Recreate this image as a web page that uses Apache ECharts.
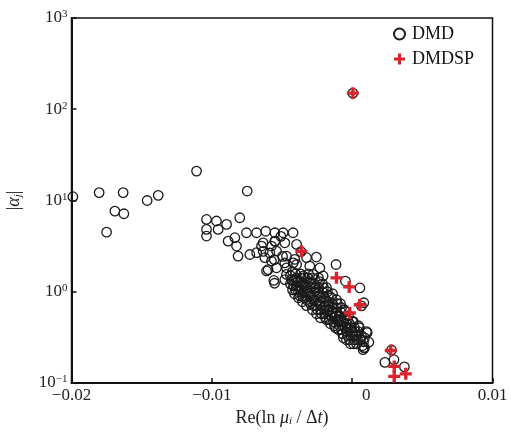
<!DOCTYPE html>
<html><head><meta charset="utf-8">
<script src="https://cdn.jsdelivr.net/npm/echarts@6/dist/echarts.min.js"></script>
<style>html,body{margin:0;padding:0;background:#fff}#c{width:511px;height:434px}</style>
</head><body><div id="c"></div>
<script>
// ---- data ----
const xTickValues = [-0.02, -0.01, 0, 0.01];
const yTickValues = [0.1, 1, 10, 100, 1000];
const seriesNames = ['DMD', 'DMDSP'];

const dmdX = [
  -0.0199, -0.01803, -0.01632, -0.01750, -0.01691, -0.01627, -0.01461, -0.01382, -0.01109, -0.00748,
  -0.01038, -0.01038, -0.01038, -0.00967, -0.00955, -0.00895, -0.00801, -0.00884, -0.00836, -0.00824,
  -0.00753, -0.00681, -0.00616, -0.00813, -0.00729, -0.00681, -0.00646, -0.00622, -0.00575, -0.00599,
  -0.00575, -0.00634, -0.00634, -0.00587, -0.00549, -0.00555, -0.00508, -0.00496, -0.00480, -0.00420,
  -0.00551, -0.00492, -0.00421, -0.00551, -0.00480, -0.00396, -0.00539, -0.00468, -0.00409, -0.00325,
  -0.00255, -0.00539, -0.00468, -0.00396, -0.00302, -0.00230, -0.00115, -0.00558, -0.00553, -0.00480,
  -0.00349, -0.00278, -0.00207, -0.00610, -0.00468, -0.00365, -0.00048, 0.00055,
  -0.00440, -0.00440, -0.00425, -0.00425, -0.00411, -0.00411, -0.00397, -0.00397, -0.00383, -0.00383,
  -0.00368, -0.00368, -0.00368, -0.00354, -0.00354, -0.00340, -0.00340, -0.00326, -0.00326, -0.00326,
  -0.00311, -0.00311, -0.00297, -0.00297, -0.00297, -0.00283, -0.00283, -0.00269, -0.00269, -0.00269,
  -0.00254, -0.00254, -0.00240, -0.00240, -0.00240, -0.00226, -0.00226, -0.00226, -0.00212, -0.00212,
  -0.00197, -0.00197, -0.00197, -0.00183, -0.00183, -0.00169, -0.00169, -0.00169, -0.00155, -0.00155,
  -0.00140, -0.00140, -0.00140, -0.00126, -0.00126, -0.00112, -0.00112, -0.00112, -0.00098, -0.00098,
  -0.00083, -0.00083, -0.00083, -0.00069, -0.00069, -0.00055, -0.00055, -0.00041, -0.00041, -0.00041,
  -0.00026, -0.00026, -0.00012, -0.00012, 0.00002, 0.00002, 0.00016, 0.00016, 0.00031, 0.00031,
  0.00045, 0.00045, 0.00059, 0.00073, 0.00088, 0.00088, 0.00102,
  -0.00432, -0.00418, -0.00404, -0.00404, -0.00390, -0.00375, -0.00375, -0.00361, -0.00347, -0.00347,
  -0.00333, -0.00318, -0.00318, -0.00304, -0.00304, -0.00290, -0.00276, -0.00276, -0.00261, -0.00247,
  -0.00247, -0.00233, -0.00233, -0.00219, -0.00219, -0.00204, -0.00204, -0.00190, -0.00190, -0.00176,
  -0.00176, -0.00162, -0.00162, -0.00147, -0.00147, -0.00133, -0.00133, -0.00119, -0.00119, -0.00105,
  -0.00105, -0.00090, -0.00090, -0.00076, -0.00076, -0.00062, -0.00062, -0.00048, -0.00048, -0.00033,
  -0.00033, -0.00019, -0.00019, -0.00005, 0.00009, 0.00009, 0.00024, 0.00038, 0.00052, 0.00066,
  0.00081,
  0.00083, 0.00066, 0.00107, 0.00119, 0.00083, 0.00078, 0.00007, 0.00233, 0.00372, 0.00280, 0.00298,
  0.00005
];
const dmdY = [
  11.0, 12.2, 12.2, 4.5, 7.66, 7.16, 10.0, 11.4, 21.0, 12.7,
  6.2, 4.82, 4.08, 5.96, 4.82, 5.47, 6.47, 3.59, 3.91, 3.17,
  4.43, 4.43, 4.6, 2.46, 2.56, 2.68, 3.17, 2.36, 3.17, 1.75,
  2.17, 3.44, 2.77, 2.66, 3.57, 2.25, 4.05, 2.44, 2.07, 2.07,
  4.43, 4.43, 4.43, 3.59, 3.44, 3.30, 2.79, 2.46, 2.26, 2.36,
  2.40, 1.83, 1.83, 1.99, 1.91, 1.83, 1.99, 1.33, 1.24, 1.36,
  1.49, 1.55, 1.49, 1.69, 1.55, 2.75, 1.31, 1.10,
  1.50, 1.22, 1.05, 1.66, 1.35, 0.951, 1.42, 1.16, 1.00, 0.860,
  1.57, 1.29, 1.05, 0.904, 0.777, 1.42, 1.16, 1.00, 0.817, 0.703,
  1.57, 1.29, 1.11, 0.904, 0.739, 0.635, 1.42, 1.22, 1.00, 0.817,
  0.703, 0.574, 1.42, 1.11, 0.904, 0.777, 0.635, 0.519, 1.22, 1.00,
  0.860, 0.703, 0.574, 0.494, 1.11, 0.904, 0.777, 0.635, 0.546, 0.446,
  0.951, 0.739, 0.604, 0.519, 0.424, 0.817, 0.668, 0.546, 0.469, 0.384,
  0.739, 0.604, 0.494, 0.424, 0.347, 0.635, 0.519, 0.446, 0.365, 0.298,
  0.546, 0.403, 0.330, 0.269, 0.469, 0.365, 0.298, 0.403, 0.330, 0.269,
  0.424, 0.365, 0.298, 0.256, 0.313, 0.243, 0.365,
  1.35, 1.16, 1.57, 1.05, 1.29, 1.11, 0.904, 1.42, 1.00, 1.22,
  0.860, 1.11, 1.42, 0.951, 0.777, 1.22, 0.860, 0.703, 1.11, 0.951,
  0.635, 1.29, 0.739, 0.860, 0.574, 1.11, 0.668, 0.777, 0.519, 1.00,
  0.604, 0.703, 0.494, 0.860, 0.546, 0.668, 0.469, 0.574, 0.403, 0.739,
  0.494, 0.546, 0.424, 0.668, 0.384, 0.469, 0.313, 0.604, 0.403, 0.494,
  0.330, 0.446, 0.298, 0.403, 0.330, 0.269, 0.365, 0.298, 0.403, 0.330,
  0.283,
  0.758, 0.70, 0.357, 0.28, 0.245, 0.232, 0.474, 0.168, 0.150, 0.230, 0.180,
  150
];

const dmdspX = [0.00005, -0.00361, -0.00112, -0.00021, 0.00054, -0.00017, 0.00275, 0.00300, 0.00300, 0.00382];
const dmdspY = [150, 2.77, 1.42, 1.13, 0.72, 0.585, 0.227, 0.152, 0.118, 0.126];

// ---- chart ----
const FONT = "'Liberation Serif','Times New Roman',serif";
const zip = (a, b) => a.map((v, i) => [v, b[i]]);
const plus = 'path://M3.6,0h2.8v3.6h3.6v2.8h-3.6v3.6h-2.8v-3.6h-3.6v-2.8h3.6z';

const chart = echarts.init(document.getElementById('c'), null, {renderer: 'canvas'});
chart.setOption({
  backgroundColor: '#fff',
  animation: false,
  grid: {left: 71.5, right: 18.5, top: 18, bottom: 51, containLabel: false, outerBoundsMode: 'none',
         show: true, borderColor: '#111', borderWidth: 1.5, backgroundColor: 'transparent'},
  legend: {
    data: seriesNames,
    orient: 'vertical', left: 388, top: 20, itemGap: 7,
    itemWidth: 11, itemHeight: 11,
    textStyle: {fontFamily: FONT, fontSize: 18, color: '#111', padding: [0, 0, 0, 2]}
  },
  xAxis: {
    type: 'value', min: xTickValues[0], max: xTickValues[xTickValues.length - 1], interval: 0.01,
    axisLine: {show: true, onZero: false, lineStyle: {color: '#111', width: 2}},
    axisTick: {show: true, inside: true, length: 5, lineStyle: {color: '#111', width: 1.5}},
    splitLine: {show: false},
    axisLabel: {
      margin: 4, color: '#222', fontFamily: FONT, fontSize: 17,
      formatter: v => {
        const r = Math.round(v * 100) / 100;
        if (r === 0) return '{z|0}';
        return (r < 0 ? '\u2212' : '') + Math.abs(r).toFixed(2);
      },
      rich: {z: {fontFamily: FONT, fontSize: 17, color: '#222', padding: [0, 0, 0, 28]}}
    },
    name: '{n|Re(ln }{i|\u03bc}{s|i}{n| / \u0394}{i|t}{n|)}',
    nameLocation: 'middle', nameGap: 25,
    nameTextStyle: {
      rich: {
        n: {fontFamily: FONT, fontSize: 18, color: '#222'},
        i: {fontFamily: FONT, fontSize: 18, color: '#222', fontStyle: 'italic'},
        s: {fontFamily: FONT, fontSize: 11, color: '#222', fontStyle: 'italic', verticalAlign: 'bottom'}
      }
    }
  },
  yAxis: {
    type: 'log', logBase: 10, min: yTickValues[0], max: yTickValues[yTickValues.length - 1],
    axisLine: {show: true, onZero: false, lineStyle: {color: '#111', width: 2}},
    axisTick: {show: true, inside: true, length: 5, lineStyle: {color: '#111', width: 1.5}},
    minorTick: {show: false},
    splitLine: {show: false},
    axisLabel: {
      margin: 4, color: '#222',
      formatter: v => {
        const e = Math.round(Math.log10(v));
        return '{b|10}{s|' + (e < 0 ? '\u2212' + (-e) : e) + '}';
      },
      rich: {
        b: {fontFamily: FONT, fontSize: 17, color: '#222', lineHeight: 18},
        s: {fontFamily: FONT, fontSize: 11, color: '#222', verticalAlign: 'top', lineHeight: 12}
      }
    },
    name: '{n||}{i|\u03b1}{s|j}{n||}',
    nameLocation: 'middle', nameGap: 48,
    nameTextStyle: {
      rich: {
        n: {fontFamily: FONT, fontSize: 18, color: '#222'},
        i: {fontFamily: FONT, fontSize: 18, color: '#222', fontStyle: 'italic'},
        s: {fontFamily: FONT, fontSize: 11, color: '#222', fontStyle: 'italic', verticalAlign: 'bottom'}
      }
    }
  },
  series: [
    {
      name: seriesNames[0], type: 'scatter', data: zip(dmdX, dmdY),
      symbol: 'circle', symbolSize: 9.5, clip: false,
      itemStyle: {color: 'rgba(255,255,255,0)', borderColor: '#1a1a1a', borderWidth: 1.3, opacity: 1},
      z: 2
    },
    {
      name: seriesNames[1], type: 'scatter', data: zip(dmdspX, dmdspY),
      symbol: plus, symbolSize: 12, clip: false,
      itemStyle: {color: '#d8242c', opacity: 1},
      z: 3
    }
  ]
});
</script>
</body></html>
